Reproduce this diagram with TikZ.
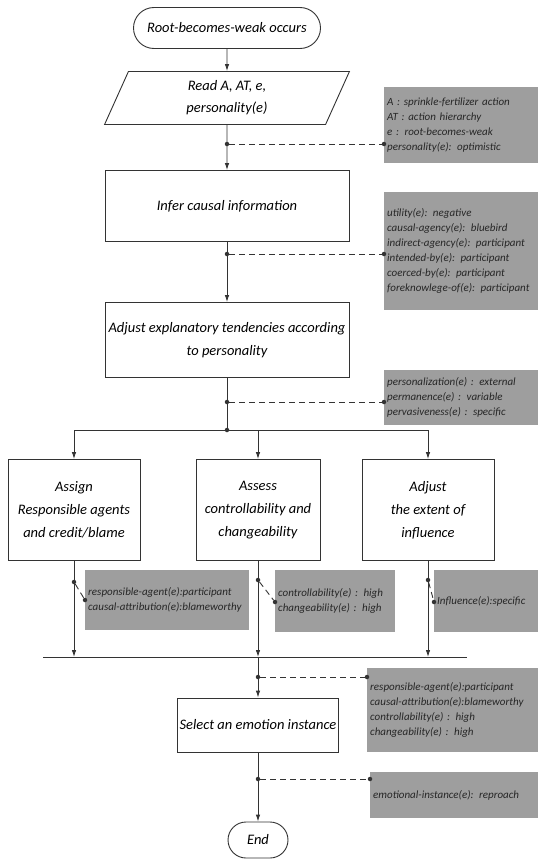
\documentclass[tikz,border=0pt]{standalone}
\usepackage{fontspec}
\setmainfont{Carlito}
\usepackage{tikz}
\usetikzlibrary{arrows.meta, positioning, calc, shapes.geometric, shapes.misc}

\begin{document}
\begin{tikzpicture}[
  x=1pt, y=-1pt,
  term/.style={draw=black!80, line width=0.9pt, rounded rectangle, align=center,
               font=\fontsize{14.5}{22}\selectfont\itshape, inner sep=3pt},
  io/.style={draw=black!80, line width=0.9pt, trapezium, trapezium left angle=75,
             trapezium right angle=105, trapezium stretches=true, align=center,
             font=\fontsize{14.5}{22}\selectfont\itshape, inner sep=2pt},
  box/.style={draw=black!80, line width=0.9pt, rectangle, align=center,
              font=\fontsize{14.5}{23}\selectfont\itshape, inner sep=2pt},
  note/.style={fill=black!38, rectangle, anchor=north west, align=left, text=black!85,
               font=\fontsize{11}{15}\selectfont\itshape, inner sep=3pt},
  arr/.style={-{Latex[length=7pt,width=4.5pt]}, line width=0.9pt, draw=black!80},
  ln/.style={line width=0.9pt, draw=black!80},
  dsh/.style={line width=0.9pt, draw=black!80, dash pattern=on 6pt off 4pt},
  dot/.style={circle, fill=black!80, inner sep=0pt, minimum size=4.5pt},
]
\fill[white] (0,0) rectangle (538,862);
\useasboundingbox (0,0) rectangle (538,862);

%% ---- Main column ----
\node[term, minimum width=193pt, minimum height=41pt] (RW) at (227,28) {Root-becomes-weak occurs};
\node[io, minimum width=245pt, minimum height=53pt]    (RD) at (227,98) {Read A, AT, e,\\personality(e)};
\node[box, minimum width=244pt, minimum height=71pt]  (IC) at (227,206) {Infer causal information};
\node[box, minimum width=244pt, minimum height=75pt]  (AE) at (227,340)
  {Adjust explanatory tendencies according\\to personality};

%% ---- Three branches ----
\node[box, minimum width=132pt, minimum height=101pt] (AR) at (74,510)
  {Assign\\Responsible agents\\and credit/blame};
\node[box, minimum width=124pt, minimum height=101pt] (AC) at (258,510)
  {Assess\\controllability and\\changeability};
\node[box, minimum width=132pt, minimum height=101pt] (AI) at (428,510)
  {Adjust\\the extent of\\influence};

%% ---- Lower part ----
\node[box, minimum width=156pt, minimum height=54pt] (SE) at (258,725) {Select an emotion instance};
\node[term, minimum width=66pt, minimum height=36pt] (EN) at (258,840) {End};

%% ---- Grey notes ----
\node[note, text width=148pt, minimum height=76pt] (nRD) at (384,87)
  {A : sprinkle-fertilizer action\\AT : action hierarchy\\e : root-becomes-weak\\personality(e): optimistic};
\node[note, text width=148pt, minimum height=118pt] (nIC) at (384,192)
  {utility(e): negative\\causal-agency(e): bluebird\\indirect-agency(e): participant\\intended-by(e): participant\\coerced-by(e): participant\\foreknowlege-of(e): participant};
\node[note, text width=148pt, minimum height=55pt] (nAE) at (384,370)
  {personalization(e) : external\\permanence(e) : variable\\pervasiveness(e) : specific};
\node[note, text width=158pt, minimum height=60pt] (nAR) at (85,570)
  {responsible-agent(e):participant\\causal-attribution(e):blameworthy};
\node[note, text width=114pt, minimum height=62pt] (nAC) at (275,570)
  {controllability(e) : high\\changeability(e) : high};
\node[note, text width=98pt, minimum height=62pt] (nAI) at (434,570) {Influence(e):specific};
\node[note, text width=165pt, minimum height=84pt] (nSE) at (367,668)
  {responsible-agent(e):participant\\causal-attribution(e):blameworthy\\controllability(e) : high\\changeability(e) : high};
\node[note, text width=162pt, minimum height=46pt] (nEN) at (370,772) {emotional-instance(e): reproach};

%% ---- Main arrows ----
\draw[arr] (RW) -- (RD);
\draw[arr] (RD) -- (IC);
\draw[arr] (IC) -- (AE);

%% ---- Split into three ----
\node[dot] (j1) at (227,430) {};
\draw[ln] (AE) -- (j1);
\draw[ln] (j1 -| AR) -- (j1 -| AI);
\draw[arr] (j1 -| AR) -- (AR);
\draw[arr] (j1 -| AC) -- (AC);
\draw[arr] (j1 -| AI) -- (AI);

%% ---- Join bar ----
\coordinate (bL) at (43,657);
\coordinate (bR) at (467,657);
\draw[ln] (bL) -- (bR);
\draw[arr] (AR) -- (AR |- bL);
\draw[arr] (AC) -- (AC |- bL);
\draw[arr] (AI) -- (AI |- bL);
\draw[arr] (AC |- bL) -- (SE);
\draw[arr] (SE) -- (EN);

%% ---- Dashed links to notes ----
\node[dot] (p1) at (227,144) {};
\node[dot] (q1) at (p1 -| nRD.west) {};
\draw[dsh] (p1) -- (q1);
\node[dot] (p2) at (227,254) {};
\node[dot] (q2) at (p2 -| nIC.west) {};
\draw[dsh] (p2) -- (q2);
\node[dot] (p3) at (227,402) {};
\node[dot] (q3) at (p3 -| nAE.west) {};
\draw[dsh] (p3) -- (q3);
\node[dot] (p4) at (74,582) {};
\node[dot] (q4) at (85,600) {};
\draw[dsh] (p4) -- (q4);
\node[dot] (p5) at (258,580) {};
\node[dot] (q5) at (275,602) {};
\draw[dsh] (p5) -- (q5);
\node[dot] (p6) at (428,580) {};
\node[dot] (q6) at (434,602) {};
\draw[dsh] (p6) -- (q6);
\node[dot] (p7) at (258,677) {};
\node[dot] (q7) at (p7 -| nSE.west) {};
\draw[dsh] (p7) -- (q7);
\node[dot] (p8) at (258,779) {};
\node[dot] (q8) at (p8 -| nEN.west) {};
\draw[dsh] (p8) -- (q8);
\end{tikzpicture}
\end{document}
